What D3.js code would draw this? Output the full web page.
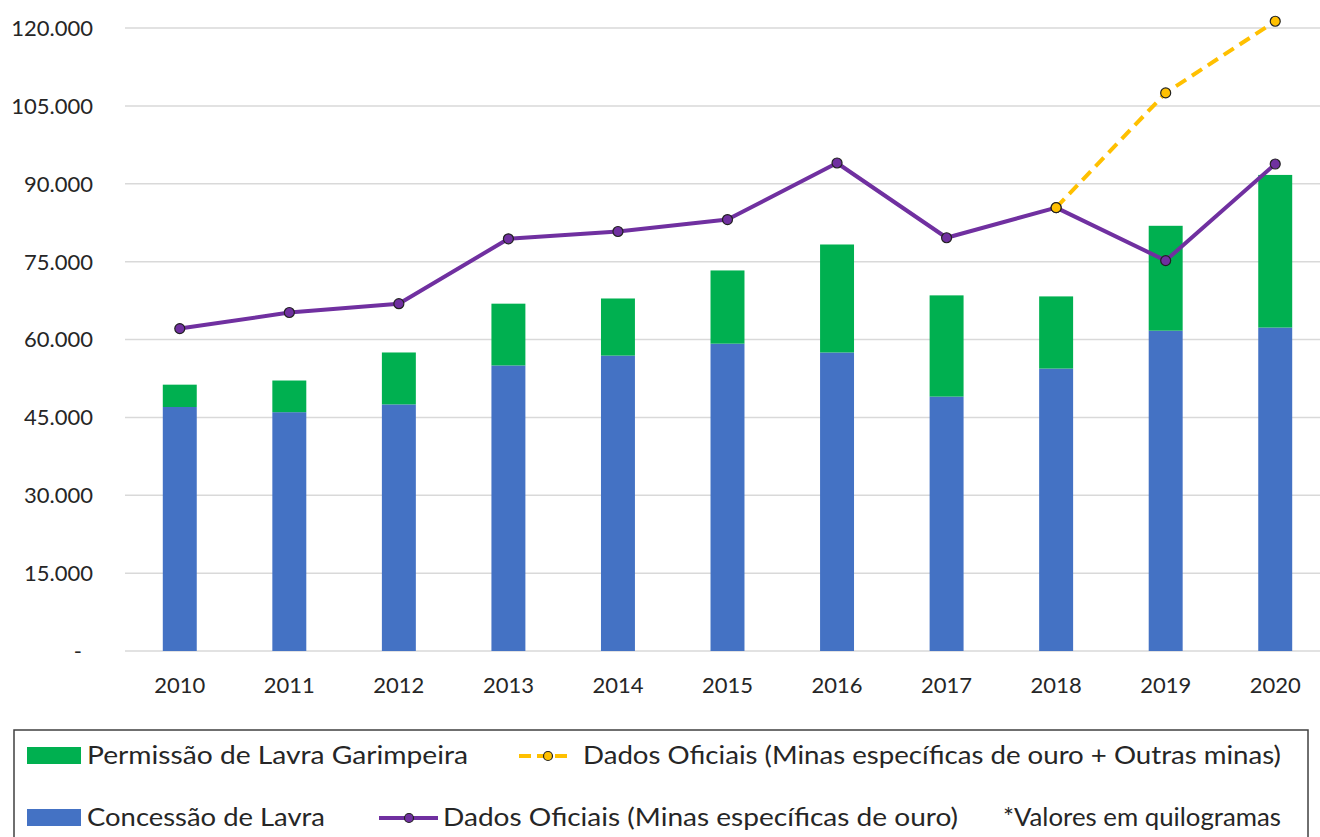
<!DOCTYPE html>
<html lang="pt">
<head>
<meta charset="UTF-8">
<title>Produção de ouro</title>
<script src="https://d3js.org/d3.v7.min.js"></script>
<style>
  body { margin: 0; background: #fff; }
  text { font-family: Lato, "Open Sans", sans-serif; fill: #262626; }
</style>
</head>
<body>
<div id="chart"></div>
<script>
  // data (kg)
  const years = ["2010","2011","2012","2013","2014","2015","2016","2017","2018","2019","2020"];
  const concessao = [47000, 46000, 47500, 55000, 56900, 59200, 57500, 49000, 54400, 61700, 62300];
  const permissao = [4300, 6100, 10000, 11900, 11000, 14100, 20800, 19500, 13900, 20200, 29400];
  const oficiais = [62100, 65200, 66900, 79400, 80800, 83100, 94000, 79600, 85400, 75200, 93800];
  const oficiaisOutras = [null, null, null, null, null, null, null, null, 85400, 107500, 121300];
  const yTicks = [0, 15000, 30000, 45000, 60000, 75000, 90000, 105000, 120000];

  const W = 1320, H = 837;
  const blue = "#4472C4", green = "#00B050", purple = "#7030A0", yellow = "#FFC000";

  const svg = d3.select("#chart").append("svg")
    .attr("width", W).attr("height", H);

  const x = d3.scaleBand().domain(years).range([125, 1330]).paddingInner(0.69).paddingOuter(0.345);
  const y = d3.scaleLinear().domain([0, 120000]).range([651, 28]);

  const fmt = v => v === 0 ? "-" : d3.format(",")(v).replace(/,/g, ".");

  // gridlines
  svg.append("g").selectAll("line").data(yTicks).enter().append("line")
    .attr("x1", 125).attr("x2", W)
    .attr("y1", d => y(d)).attr("y2", d => y(d))
    .attr("stroke", "#d9d9d9").attr("stroke-width", 1.5);

  // y labels (zero shown as a dash, a bit left like the accounting format)
  svg.append("g").selectAll("text").data(yTicks).enter().append("text")
    .attr("x", d => d === 0 ? 82 : 93).attr("y", d => y(d)).attr("dy", "0.36em")
    .attr("text-anchor", "end").style("font-size", "22px")
    .text(fmt);

  // x labels
  svg.append("g").selectAll("text").data(years).enter().append("text")
    .attr("x", d => x(d) + x.bandwidth() / 2).attr("y", 693)
    .attr("text-anchor", "middle").style("font-size", "22px")
    .text(d => d);

  // stacked bars
  svg.append("g").selectAll("rect").data(years).enter().append("rect")
    .attr("x", d => x(d)).attr("width", x.bandwidth())
    .attr("y", (d, i) => y(concessao[i])).attr("height", (d, i) => y(0) - y(concessao[i]))
    .attr("fill", blue);
  svg.append("g").selectAll("rect").data(years).enter().append("rect")
    .attr("x", d => x(d)).attr("width", x.bandwidth())
    .attr("y", (d, i) => y(concessao[i] + permissao[i])).attr("height", (d, i) => y(concessao[i]) - y(concessao[i] + permissao[i]))
    .attr("fill", green);

  const cx = d => x(d) + x.bandwidth() / 2;

  // dashed yellow line
  const yellowPts = years.map((d, i) => [d, oficiaisOutras[i]]).filter(p => p[1] != null);
  svg.append("path")
    .datum(yellowPts)
    .attr("d", d3.line().x(p => cx(p[0])).y(p => y(p[1])))
    .attr("fill", "none").attr("stroke", yellow).attr("stroke-width", 4)
    .attr("stroke-dasharray", "12,7");

  // purple line
  svg.append("path")
    .datum(years.map((d, i) => [d, oficiais[i]]))
    .attr("d", d3.line().x(p => cx(p[0])).y(p => y(p[1])))
    .attr("fill", "none").attr("stroke", purple).attr("stroke-width", 4)
    .attr("stroke-linejoin", "round");

  svg.append("g").selectAll("circle").data(years).enter().append("circle")
    .attr("cx", cx).attr("cy", (d, i) => y(oficiais[i])).attr("r", 5)
    .attr("fill", purple).attr("stroke", "#222").attr("stroke-width", 1.2);

  svg.append("g").selectAll("circle").data(yellowPts).enter().append("circle")
    .attr("cx", p => cx(p[0])).attr("cy", p => y(p[1])).attr("r", 5)
    .attr("fill", yellow).attr("stroke", "#222").attr("stroke-width", 1.2);

  // legend
  const lg = svg.append("g");
  lg.append("rect").attr("x", 14).attr("y", 730).attr("width", 1294).attr("height", 120)
    .attr("fill", "none").attr("stroke", "#404040").attr("stroke-width", 1.5);

  const legendText = (tx, ty, str, len) =>
    lg.append("text").attr("x", tx).attr("y", ty).style("font-size", "25px")
      .attr("textLength", len).attr("lengthAdjust", "spacingAndGlyphs").text(str);

  const b1 = 764, b2 = 826;
  lg.append("rect").attr("x", 27).attr("y", 747).attr("width", 54).attr("height", 17).attr("fill", green);
  legendText(87, b1, "Permissão de Lavra Garimpeira", 381);

  lg.append("line").attr("x1", 519).attr("x2", 572).attr("y1", 756).attr("y2", 756)
    .attr("stroke", yellow).attr("stroke-width", 4).attr("stroke-dasharray", "12,6");
  lg.append("circle").attr("cx", 548).attr("cy", 756).attr("r", 4.5)
    .attr("fill", yellow).attr("stroke", "#222").attr("stroke-width", 1.2);
  legendText(583, b1, "Dados Oficiais (Minas específicas de ouro + Outras minas)", 698);

  lg.append("rect").attr("x", 27).attr("y", 809).attr("width", 54).attr("height", 17).attr("fill", blue);
  legendText(87, b2, "Concessão de Lavra", 238);

  lg.append("line").attr("x1", 379).attr("x2", 438).attr("y1", 818).attr("y2", 818)
    .attr("stroke", purple).attr("stroke-width", 4);
  lg.append("circle").attr("cx", 409).attr("cy", 818).attr("r", 4.5)
    .attr("fill", purple).attr("stroke", "#222").attr("stroke-width", 1.2);
  legendText(443, b2, "Dados Oficiais (Minas específicas de ouro)", 515);

  legendText(1003, b2, "*Valores em quilogramas", 278);
</script>
</body>
</html>
